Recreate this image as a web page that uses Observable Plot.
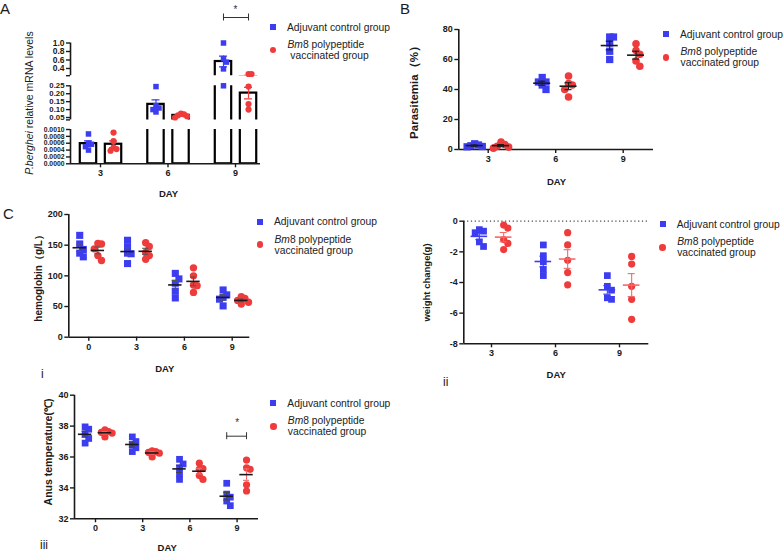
<!DOCTYPE html>
<html><head><meta charset="utf-8">
<script src="https://cdn.jsdelivr.net/npm/d3@7"></script>
<script src="https://cdn.jsdelivr.net/npm/@observablehq/plot@0.6"></script>
<style>
body{margin:0;background:#fff;}
#fig{position:relative;width:784px;height:553px;overflow:hidden;font-family:"Liberation Sans",Arial,Helvetica,sans-serif;color:#1a1a1a;}
#fig svg [aria-label$="-axis tick"]{stroke-width:1.4px;}
#fig svg [aria-label*="axis"] text, #fig svg [aria-label*="axis"]{font-weight:bold;}
.lab{position:absolute;line-height:1;white-space:nowrap;}
.leg{position:absolute;font-size:10.3px;line-height:11px;white-space:nowrap;color:#222;}
</style></head>
<body><div id="fig"></div>
<script>
// ---------------- DATA ----------------
const legendControl = "Adjuvant control group";
const legendVaccine = ["Bm8 polypeptide", "vaccinated group"];

// A: P. berghei relative mRNA levels (5 mice per group)
const mrnaDays = [3, 6, 9];
const mrnaControl = [
  [0.00087, 0.00060, 0.00057, 0.00050, 0.00040],
  [0.245, 0.125, 0.110, 0.100, 0.085],
  [1.00, 0.63, 0.55, 0.39, 0.25]
];
const mrnaVaccine = [
  [0.00091, 0.00066, 0.00047, 0.00043, 0.00038],
  [0.075, 0.070, 0.064, 0.058, 0.050],
  [0.27, 0.27, 0.245, 0.135, 0.100]
];
const mrnaTicksHigh = [0.4, 0.6, 0.8, 1.0];
const mrnaTicksMid = [0.05, 0.10, 0.15, 0.20, 0.25];
const mrnaTicksLow = [0, 0.0002, 0.0004, 0.0006, 0.0008, 0.0010];
const mrnaSignificance = [{day: 9, label: "*"}];

// B: Parasitemia (%)
const parasitemiaDays = [3, 6, 9];
const parasitemiaControl = [[3.8, 3.0, 2.5, 2.0, 1.8], [48, 45, 45, 43, 40], [75, 75, 71, 65.5, 60]];
const parasitemiaVaccine = [[4.9, 3.3, 2.2, 1.6, 0.9], [49, 44, 43, 40, 35], [70.5, 66, 63.5, 59, 55.5]];
const parasitemiaTicks = [0, 20, 40, 60, 80];

// C-i: hemoglobin (g/L)
const hbDays = [0, 3, 6, 9];
const hbControl = [[166, 152, 143, 137, 131], [158, 147, 137, 136, 120], [104, 95, 88, 75, 64], [77, 69, 65, 62, 51]];
const hbVaccine = [[153, 152, 144, 133, 125], [154, 148, 138, 133, 127], [113, 100, 85, 84, 73], [66, 63, 60, 57, 54]];
const hbTicks = [0, 50, 100, 150, 200];

// C-ii: weight change (g)
const wtDays = [3, 6, 9];
const wtControl = [[-0.55, -0.65, -0.75, -1.35, -1.65], [-1.55, -2.25, -2.65, -3.15, -3.55], [-3.55, -4.25, -4.5, -5.0, -5.1]];
const wtVaccine = [[-0.25, -0.45, -1.2, -1.45, -1.85], [-0.75, -1.55, -2.55, -3.35, -4.15], [-2.3, -2.8, -4.25, -5.1, -6.4]];
const wtTicks = [-8, -6, -4, -2, 0];

// C-iii: anus temperature (°C)
const tempDays = [0, 3, 6, 9];
const tempControl = [[37.95, 37.8, 37.5, 37.2, 36.9], [37.3, 37.0, 36.8, 36.6, 36.35], [35.85, 35.55, 35.3, 34.9, 34.55], [34.3, 33.6, 33.4, 33.15, 32.85]];
const tempVaccine = [[37.75, 37.65, 37.6, 37.55, 37.3], [36.4, 36.35, 36.3, 36.25, 36.0], [35.6, 35.25, 35.2, 34.8, 34.55], [35.8, 35.3, 35.2, 34.2, 33.8]];
const tempTicks = [32, 34, 36, 38, 40];
const tempSignificance = [{day: 9, label: "*"}];

// ---------------- STYLE ----------------
const FONT = '"Liberation Sans", Arial, Helvetica, sans-serif';
const BLUE = "#3c3cf0", RED = "#ef3b3b", RED_LIGHT = "#f26a6a", AXIS = "#1a1a1a";
const fig = document.getElementById("fig");

function place(node, left, top) {
  node.style.position = "absolute";
  node.style.left = left + "px";
  node.style.top = top + "px";
  fig.appendChild(node);
}
function htmlText(html, cls, css) {
  const d = document.createElement("div");
  d.className = cls; d.innerHTML = html; d.style.cssText += css;
  fig.appendChild(d); return d;
}
const italicBm = s => s.replace(/^Bm/, "<i>Bm</i>");

function legend(mx, y0, indent) {
  const sq = document.createElement("div");
  sq.style.cssText = `position:absolute;left:${mx - 3}px;top:${y0 - 3}px;width:6px;height:6px;background:${BLUE}`;
  fig.appendChild(sq);
  const ci = document.createElement("div");
  ci.style.cssText = `position:absolute;left:${mx - 3.3}px;top:${y0 + 23 - 3.3}px;width:6.6px;height:6.6px;border-radius:50%;background:${RED}`;
  fig.appendChild(ci);
  htmlText(legendControl, "leg", `left:${mx + 14}px;top:${y0 - 5.5}px`);
  htmlText(italicBm(legendVaccine[0]) + "<br>" + (indent ? "&nbsp;" : "") + legendVaccine[1], "leg", `left:${mx + 14.5}px;top:${y0 + 17.5 - 5.5}px`);
}

// Spread overlapping points sideways (GraphPad-like scatter)
function spread(vals, toPx, size, step) {
  const order = d3.range(vals.length).sort((a, b) => vals[b] - vals[a]);
  const placed = [], off = [];
  for (const i of order) {
    const py = toPx(vals[i]);
    for (let k = 0; k < 60; k++) {
      const c = k === 0 ? 0 : (k % 2 ? 1 : -1) * Math.ceil(k / 2) * step;
      if (placed.every(p => Math.abs(p.y - py) >= 0.8 * size || Math.abs(p.x - c) >= step * 0.999)) {
        off[i] = c; placed.push({x: c, y: py}); break;
      }
    }
  }
  return off;
}
const sem = a => d3.deviation(a) / Math.sqrt(a.length);

// ---------------- SCATTER PANELS ----------------
function scatterPanel(o) {
  const mL = o.x0 - o.left, mR = o.left + o.width - o.x1, mT = o.y0 - o.top, mB = o.top + o.height - o.y1;
  const xDomain = [(o.x0 - o.tick0) / o.spacing, (o.x1 - o.tick0) / o.spacing];
  const pxPerUnit = (o.y1 - o.y0) / (o.yDomain[1] - o.yDomain[0]);
  const pts = [[], []], stats = [[], []];
  [o.ctrl, o.vacc].forEach((series, g) => series.forEach((vals, i) => {
    const size = g ? 2 * o.rCi : o.rSq * Math.sqrt(Math.PI);
    const offs = spread(vals, v => v * pxPerUnit, size, o.step);
    const cx = i + o.offsets[g];
    vals.forEach((v, k) => pts[g].push({v, x: cx + offs[k] / o.spacing}));
    const m = d3.mean(vals), s = sem(vals);
    stats[g].push({x: cx, m, lo: m - s, hi: m + s});
  }));
  const mhw = o.meanHW / o.spacing, chw = o.capHW / o.spacing;
  const marks = [
    ...(o.before || []),
    Plot.ruleY([o.yDomain[0]], {stroke: AXIS, strokeWidth: 1.6}),
    Plot.ruleX([xDomain[0]], {stroke: AXIS, strokeWidth: 1.6}),
    Plot.dot(pts[0], {x: "x", y: "v", symbol: "square", r: o.rSq, fill: BLUE}),
    Plot.dot(pts[1], {x: "x", y: "v", symbol: "circle", r: o.rCi, fill: RED})
  ];
  [0, 1].forEach(g => {
    marks.push(
      Plot.ruleX(stats[g], {x: "x", y1: "lo", y2: "hi", stroke: o.errColors[g], strokeWidth: 1.1}),
      Plot.ruleY(stats[g], {y: "lo", x1: d => d.x - chw, x2: d => d.x + chw, stroke: o.errColors[g], strokeWidth: 1.1}),
      Plot.ruleY(stats[g], {y: "hi", x1: d => d.x - chw, x2: d => d.x + chw, stroke: o.errColors[g], strokeWidth: 1.1}),
      Plot.ruleY(stats[g], {y: "m", x1: d => d.x - mhw, x2: d => d.x + mhw, stroke: o.lineColors[g], strokeWidth: 1.6})
    );
  });
  marks.push(
    Plot.text([o.title], {text: d => d, frameAnchor: "left", rotate: -90, dx: o.titleX - o.x0, dy: o.titleDy || 0,
      fontSize: o.titleSize, fontWeight: "bold", textAnchor: "middle", lineAnchor: "middle", fill: AXIS}),
    Plot.text(["DAY"], {text: d => d, frameAnchor: "bottom", dx: o.dayX - (o.x0 + o.x1) / 2, dy: o.dayY - o.y1,
      fontSize: 9.5, fontWeight: "bold", lineAnchor: "middle", fill: AXIS}),
    ...(o.after ? o.after(o) : [])
  );
  const chart = Plot.plot({
    width: o.width, height: o.height,
    marginLeft: mL, marginRight: mR, marginTop: mT, marginBottom: mB,
    style: {background: "transparent", fontFamily: FONT, fontSize: "9px", fontWeight: "bold", color: AXIS, overflow: "visible"},
    x: {type: "linear", domain: xDomain, ticks: o.days.map((d, i) => i), tickFormat: i => o.days[Math.round(i)], tickSize: 4, tickPadding: 2, label: null},
    y: {domain: o.yDomain, ticks: o.yTicks, tickFormat: d => String(d), tickSize: 4, tickPadding: 2, label: null},
    marks
  });
  place(chart, o.left, o.top);
}

// ---------------- PANEL A (segmented axis bar chart) ----------------
(function panelA() {
  const L = {left: 0, width: 265, x0: 70, x1: 260, tick0: 100, spacing: 67.5, offsets: [-0.178, 0.193], barHW: 8.2, capHW: 4};
  const xDomain = [(L.x0 - L.tick0) / L.spacing, (L.x1 - L.tick0) / L.spacing];
  const segs = [
    {domain: [0.23, 1.0], top: 0, height: 78, y0: 42.5, y1: 75.2, ticks: [0.23, ...mrnaTicksHigh],
      fmt: v => v < 0.3 ? "" : d3.format(".1f")(v), has: v => v > 0.25, fontSize: "8.5px"},
    {domain: [0.035, 0.25], top: 80, height: 42, y0: 85.3, y1: 119.4, ticks: [0.035, ...mrnaTicksMid],
      fmt: v => v < 0.04 ? "" : d3.format(".2f")(v), has: v => v > 0.002 && v <= 0.25, fontSize: "7.8px"},
    {domain: [0, 0.001], top: 0, height: 200, y0: 129, y1: 163.3, ticks: mrnaTicksLow,
      fmt: d3.format(".4f"), has: v => v <= 0.002, xAxis: true, fontSize: "6.8px"}
  ];
  segs.forEach(s => s.scale = d3.scaleLinear(s.domain, [s.y1, s.y0]));
  const toPx = v => segs.find(s => s.has(v)).scale(v);
  const pts = [[], []], stats = [[], []];
  [mrnaControl, mrnaVaccine].forEach((series, g) => series.forEach((vals, i) => {
    const size = g ? 6.2 : 5.5;
    const offs = spread(vals, toPx, size, 3);
    const cx = i + L.offsets[g];
    vals.forEach((v, k) => pts[g].push({v, x: cx + offs[k] / L.spacing}));
    const m = d3.mean(vals), s = sem(vals);
    stats[g].push({x: cx, m, lo: m - s, hi: m + s});
  }));
  const bhw = L.barHW / L.spacing, chw = L.capHW / L.spacing;
  const colors = [BLUE, RED];
  segs.forEach((seg, si) => {
    const marks = [
      Plot.ruleX([xDomain[0]], {stroke: AXIS, strokeWidth: 1.6}),
      ...[0, 1].map(g => Plot.rect(stats[g], {x1: d => d.x - bhw, x2: d => d.x + bhw, y1: () => 0, y2: "m",
        fill: "white", stroke: "black", strokeWidth: 2.2, clip: true})),
      ...[0, 1].flatMap(g => [
        Plot.ruleX(stats[g], {x: "x", y1: "lo", y2: "hi", stroke: colors[g], strokeWidth: 1.2, clip: true}),
        Plot.ruleY(stats[g], {y: "lo", x1: d => d.x - chw, x2: d => d.x + chw, stroke: colors[g], strokeWidth: 1.2, clip: true}),
        Plot.ruleY(stats[g], {y: "hi", x1: d => d.x - chw, x2: d => d.x + chw, stroke: colors[g], strokeWidth: 1.2, clip: true})
      ]),
      Plot.dot(pts[0].filter(d => seg.has(d.v)), {x: "x", y: "v", symbol: "square", r: 3.1, fill: BLUE}),
      Plot.dot(pts[1].filter(d => seg.has(d.v)), {x: "x", y: "v", symbol: "circle", r: 3.1, fill: RED})
    ];
    if (seg.xAxis) {
      marks.push(
        Plot.ruleY([seg.domain[0]], {stroke: AXIS, strokeWidth: 1.6}),
        Plot.text(["DAY"], {text: d => d, frameAnchor: "bottom", dx: 168 - (L.x0 + L.x1) / 2, dy: 193 - seg.y1,
          fontSize: 9.5, fontWeight: "bold", lineAnchor: "middle", fill: AXIS})
      );
    }
    if (si === 0) {
      const top = seg.domain[1];
      const xi = d => mrnaDays.indexOf(d.day);
      marks.push(
        Plot.ruleY(mrnaSignificance, {y: () => top, x1: d => xi(d) + L.offsets[0], x2: d => xi(d) + L.offsets[1], dy: -25.5, stroke: "#333", strokeWidth: 1}),
        Plot.ruleX(mrnaSignificance.flatMap(d => [xi(d) + L.offsets[0], xi(d) + L.offsets[1]]), {x: d => d, y1: () => top, y2: () => top, insetTop: -3.5, insetBottom: -3.5, dy: -25.5, stroke: "#333", strokeWidth: 1}),
        Plot.text(mrnaSignificance, {x: d => xi(d), y: () => top, text: "label", dy: -33, fontSize: 10, fontWeight: "normal", fill: "#333"})
      );
    }
    const chart = Plot.plot({
      width: L.width, height: seg.height,
      marginLeft: L.x0 - L.left, marginRight: L.left + L.width - L.x1,
      marginTop: seg.y0 - seg.top, marginBottom: seg.top + seg.height - seg.y1,
      style: {background: "transparent", fontFamily: FONT, fontSize: seg.fontSize, fontWeight: "bold", color: AXIS, overflow: "visible"},
      x: seg.xAxis
        ? {type: "linear", domain: xDomain, ticks: mrnaDays.map((d, i) => i), tickFormat: i => mrnaDays[Math.round(i)], tickSize: 4, tickPadding: 2, label: null}
        : {type: "linear", domain: xDomain, axis: null},
      y: {domain: seg.domain, ticks: seg.ticks, tickFormat: seg.fmt, tickSize: 4, tickPadding: 2, label: null},
      marks
    });
    if (seg.xAxis) {
      // x tick labels keep the regular panel size
      chart.querySelectorAll('[aria-label^="x-axis"] text').forEach(t => t.setAttribute("font-size", "9px"));
      chart.querySelectorAll('[aria-label^="x-axis"]').forEach(g => g.setAttribute("font-size", "9px"));
    }
    place(chart, L.left, seg.top);
  });
  htmlText("<i>P.berghei</i> relative mRNA levels", "lab",
    "left:29px;top:103px;font-size:10.5px;transform:translate(-50%,-50%) rotate(-90deg);");
  legend(273, 27, true);
})();

// ---------------- PANEL B ----------------
scatterPanel({
  left: 385, top: 0, width: 272, height: 190, x0: 458.3, x1: 653, y0: 29, y1: 149,
  tick0: 487.7, spacing: 67.5, offsets: [-0.2, 0.19],
  days: parasitemiaDays, ctrl: parasitemiaControl, vacc: parasitemiaVaccine,
  yDomain: [0, 80], yTicks: parasitemiaTicks,
  rSq: 4.1, rCi: 3.8, step: 3.8, meanHW: 8.5, capHW: 3.5,
  lineColors: [AXIS, AXIS], errColors: [AXIS, AXIS],
  title: "Parasitemia（%）", titleX: 414, titleSize: 11.5, dayX: 556, dayY: 181
});
legend(666, 34.3, false);

// ---------------- PANEL C-i ----------------
scatterPanel({
  left: 0, top: 200, width: 255, height: 180, x0: 68.3, x1: 249.3, y0: 214, y1: 336.7,
  tick0: 88.3, spacing: 47.8, offsets: [-0.19, 0.19],
  days: hbDays, ctrl: hbControl, vacc: hbVaccine,
  yDomain: [0, 200], yTicks: hbTicks,
  rSq: 4.0, rCi: 3.7, step: 3.6, meanHW: 6.7, capHW: 3,
  lineColors: [AXIS, AXIS], errColors: ["#555", "#555"],
  title: "hemoglobin（g/L）", titleX: 38.3, titleSize: 10, dayX: 164.3, dayY: 368.3
});
legend(260, 221.7, false);

// ---------------- PANEL C-ii ----------------
scatterPanel({
  left: 395, top: 205, width: 258, height: 180, x0: 463.3, x1: 648.3, y0: 220.7, y1: 343.3,
  tick0: 491, spacing: 64, offsets: [-0.19, 0.19],
  days: wtDays, ctrl: wtControl, vacc: wtVaccine,
  yDomain: [-8, 0], yTicks: wtTicks,
  rSq: 3.8, rCi: 3.6, step: 4.2, meanHW: 8.3, capHW: 3.5,
  lineColors: [BLUE, RED_LIGHT], errColors: [BLUE, RED_LIGHT],
  before: [Plot.ruleY([0], {stroke: "#444", strokeWidth: 1.2, strokeDasharray: "1.2,2.6"})],
  title: "weight change(g)", titleX: 426.7, titleSize: 9.5, dayX: 555.7, dayY: 374
});
legend(662.7, 224.3, false);

// ---------------- PANEL C-iii ----------------
scatterPanel({
  left: 0, top: 385, width: 262, height: 168, x0: 74, x1: 258, y0: 394.7, y1: 518.3,
  tick0: 95, spacing: 47.2, offsets: [-0.22, 0.2],
  days: tempDays, ctrl: tempControl, vacc: tempVaccine,
  yDomain: [32, 40], yTicks: tempTicks,
  rSq: 3.8, rCi: 3.6, step: 3.6, meanHW: 6.7, capHW: 3,
  lineColors: [AXIS, AXIS], errColors: ["#444", RED_LIGHT],
  title: "Anus temperature(℃)", titleX: 48.3, titleDy: -5, titleSize: 10.5, dayX: 166.7, dayY: 547.3,
  after: o => {
    const xi = d => o.days.indexOf(d.day), top = o.yDomain[1];
    return [
      Plot.ruleY(tempSignificance, {y: () => top, x1: d => xi(d) + o.offsets[0], x2: d => xi(d) + o.offsets[1], dy: 41, stroke: "#333", strokeWidth: 1}),
      Plot.ruleX(tempSignificance.flatMap(d => [xi(d) + o.offsets[0], xi(d) + o.offsets[1]]), {x: d => d, y1: () => top, y2: () => top, insetTop: -3.5, insetBottom: -3.5, dy: 41, stroke: "#333", strokeWidth: 1}),
      Plot.text(tempSignificance, {x: d => xi(d), y: () => top, text: "label", dy: 28, fontSize: 10, fontWeight: "normal", fill: "#333"})
    ];
  }
});
legend(273.3, 403.3, false);

// ---------------- PANEL LETTERS ----------------
htmlText("A", "lab", "left:0px;top:0.6px;font-size:15px;");
htmlText("B", "lab", "left:400px;top:0.6px;font-size:15px;");
htmlText("C", "lab", "left:3px;top:205.5px;font-size:15px;");
htmlText("i", "lab", "left:41px;top:368px;font-size:12px;");
htmlText("ii", "lab", "left:443px;top:376px;font-size:12px;");
htmlText("iii", "lab", "left:40px;top:539px;font-size:12px;");
</script>
</body></html>
